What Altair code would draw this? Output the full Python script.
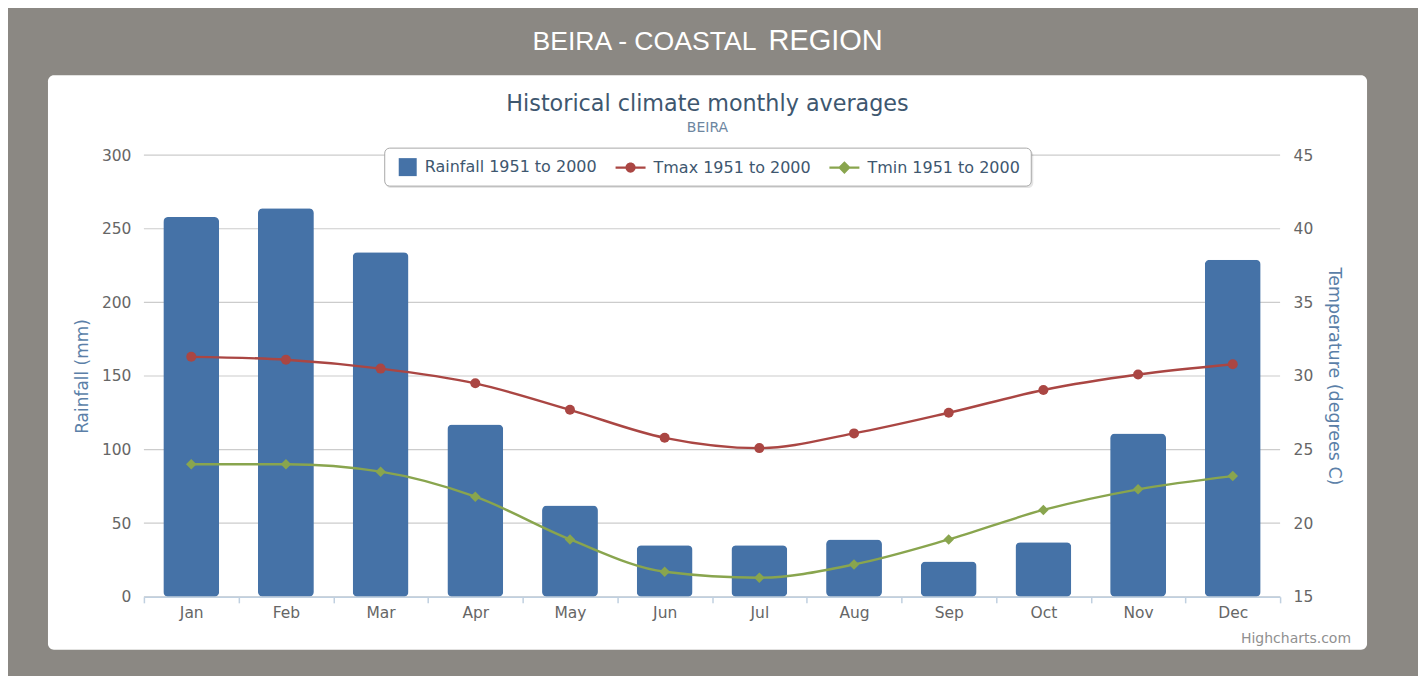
import altair as alt
import pandas as pd

# ---------------- data ----------------
months = ["Jan", "Feb", "Mar", "Apr", "May", "Jun", "Jul", "Aug", "Sep", "Oct", "Nov", "Dec"]
rainfall = [258, 264, 234, 117, 62, 35, 35, 39, 24, 37, 111, 229]
tmax = [31.3, 31.1, 30.5, 29.5, 27.7, 25.8, 25.1, 26.1, 27.5, 29.05, 30.1, 30.8]
tmin = [24.0, 24.0, 23.5, 21.8, 18.9, 16.7, 16.3, 17.2, 18.9, 20.9, 22.3, 23.2]
rain_ticks = [0, 50, 100, 150, 200, 250, 300]
temp_ticks = [15, 20, 25, 30, 35, 40, 45]
series = ["Rainfall 1951 to 2000", "Tmax 1951 to 2000", "Tmin 1951 to 2000"]
series_colors = ["#4572A7", "#AA4643", "#89A54E"]

df = pd.DataFrame({"Month": months, "Rainfall": rainfall, "Tmax": tmax, "Tmin": tmin})
grid_df = pd.DataFrame({"v": rain_ticks})
one = pd.DataFrame({"k": [0]})

FONT = "DejaVu Sans"
W, H = 1137, 442

# ---------------- scales / axes ----------------
x_scale = alt.Scale(domain=months, paddingInner=0, paddingOuter=0)
x_axis = alt.Axis(title=None, labelAngle=0, tickBand="extent", grid=False, zindex=1,
                  domainColor="#C0D0E0", domainWidth=1.5,
                  tickColor="#C0D0E0", tickSize=6, tickWidth=1.5,
                  labelColor="#666666", labelFont=FONT, labelFontSize=15.5,
                  labelPadding=3)
x_enc = alt.X("Month:N", sort=months, scale=x_scale, axis=x_axis)

left_scale = alt.Scale(domain=[0, 300], nice=False, zero=False)
right_scale = alt.Scale(domain=[15, 45], nice=False, zero=False)

left_axis = alt.Axis(title="Rainfall (mm)", orient="left", values=rain_ticks, zindex=1,
                     grid=False, domain=False, ticks=False,
                     labelPadding=13, labelColor="#666666", labelFont=FONT,
                     labelFontSize=15.5, titleColor="#5B7FA8", titleFont=FONT,
                     titleFontSize=17, titleFontWeight="normal", titlePadding=10)
right_axis = alt.Axis(title="Temperature (degrees C)", orient="right", values=temp_ticks,
                      zindex=1, grid=False, domain=False, ticks=False,
                      labelPadding=13, labelColor="#666666", labelFont=FONT,
                      labelFontSize=15.5, titleColor="#5B7FA8", titleFont=FONT,
                      titleFontSize=17.5, titleFontWeight="normal", titlePadding=12)

# ---------------- left (rainfall) group ----------------
panel = alt.Chart(one).mark_rect(color="white", cornerRadius=6).encode(
    x=alt.value(-96), x2=alt.value(1224), y=alt.value(-80), y2=alt.value(495))

header1 = alt.Chart(one).mark_text(text="BEIRA - COASTAL", font="Liberation Sans",
                                   fontSize=26.6, color="white", align="right",
                                   baseline="alphabetic").encode(
    x=alt.value(613), y=alt.value(-105.5))
header2 = alt.Chart(one).mark_text(text="REGION", font="Liberation Sans",
                                   fontSize=29, color="white", align="left",
                                   baseline="alphabetic").encode(
    x=alt.value(625), y=alt.value(-105.5))
title = alt.Chart(one).mark_text(text="Historical climate monthly averages", font=FONT,
                                 fontSize=22.3, color="#3E576F", align="center",
                                 baseline="alphabetic").encode(
    x=alt.value(564), y=alt.value(-44))
subtitle = alt.Chart(one).mark_text(text="BEIRA", font=FONT, fontSize=14,
                                    color="#6D869F", align="center",
                                    baseline="alphabetic").encode(
    x=alt.value(564), y=alt.value(-23))
credit = alt.Chart(one).mark_text(text="Highcharts.com", font=FONT, fontSize=14,
                                  color="#909090", align="right",
                                  baseline="alphabetic").encode(
    x=alt.value(1208), y=alt.value(488))

grid = alt.Chart(grid_df).mark_rule(color="#CCCCCC", strokeWidth=1.2).encode(
    y=alt.Y("v:Q", scale=left_scale, axis=left_axis))

bars = alt.Chart(df).mark_bar(cornerRadius=5, color="#4572A7",
                              width=alt.RelativeBandSize(0.59)).encode(
    x=x_enc, y=alt.Y("Rainfall:Q", scale=left_scale, axis=left_axis))

left_group = alt.layer(panel, header1, header2, title, subtitle, credit, grid, bars)

# ---------------- right (temperature) group ----------------
legend_shadow = alt.Chart(one).mark_rect(color="#000000", opacity=0.10, cornerRadius=5).encode(
    x=alt.value(242), x2=alt.value(890), y=alt.value(-5), y2=alt.value(33))
legend_box = alt.Chart(one).mark_rect(fill="white", stroke="#A8A8A8", strokeWidth=1,
                                      cornerRadius=5).encode(
    x=alt.value(241), x2=alt.value(888), y=alt.value(-7), y2=alt.value(31))

tmax_line = alt.Chart(df).mark_line(color="#AA4643", strokeWidth=2.4,
                                    interpolate="monotone").encode(
    x=x_enc, y=alt.Y("Tmax:Q", scale=right_scale, axis=right_axis))
tmax_pts = alt.Chart(df).mark_point(filled=True, shape="circle", size=100,
                                    color="#AA4643", opacity=1).encode(
    x=x_enc, y=alt.Y("Tmax:Q", scale=right_scale, axis=right_axis))
tmin_line = alt.Chart(df).mark_line(color="#89A54E", strokeWidth=2.4,
                                    interpolate="monotone").encode(
    x=x_enc, y=alt.Y("Tmin:Q", scale=right_scale, axis=right_axis))
tmin_pts = alt.Chart(df).mark_point(filled=True, shape="diamond", size=110,
                                    color="#89A54E", opacity=1).encode(
    x=x_enc, y=alt.Y("Tmin:Q", scale=right_scale, axis=right_axis))

sym_square = "M-0.2,-0.6H1V0.6H-0.2Z"
sym_circle = ("M-1,-0.07H1V0.07H-1Z "
              "M-0.34,0A0.34,0.34 0 1,1 0.34,0A0.34,0.34 0 1,1 -0.34,0Z")
sym_diamond = "M-1,-0.07H1V0.07H-1Z M0,-0.42L0.42,0L0,0.42L-0.42,0Z"

leg = alt.Legend(title=None, orient="none", legendX=243, legendY=-3,
                 direction="horizontal", labelFont=FONT, labelFontSize=16,
                 labelColor="#3E576F", labelLimit=400, symbolSize=900, labelOffset=8,
                 columnPadding=18, padding=0, symbolStrokeWidth=0, symbolOpacity=1)

legend_layer = alt.Chart(df).mark_point(filled=True).encode(
    x=x_enc,
    y=alt.Y("Tmax:Q", scale=right_scale, axis=right_axis),
    color=alt.Color("s:N", scale=alt.Scale(domain=series, range=series_colors), legend=leg),
    shape=alt.Shape("s:N", scale=alt.Scale(domain=series,
                                           range=[sym_square, sym_circle, sym_diamond]),
                    legend=leg),
).transform_calculate(s="'x'").transform_filter("false")

right_group = alt.layer(legend_shadow, legend_box, tmax_line, tmin_line,
                        tmax_pts, tmin_pts, legend_layer)

chart = alt.layer(left_group, right_group).resolve_scale(y="independent").properties(
    width=W, height=H,
    autosize=alt.AutoSizeParams(type="none"),
    padding={"left": 136, "right": 138, "top": 147, "bottom": 79},
).configure(background="#8B8883").configure_view(stroke=None)

chart.save("out.html", embed_options={"renderer": "svg", "actions": False})
